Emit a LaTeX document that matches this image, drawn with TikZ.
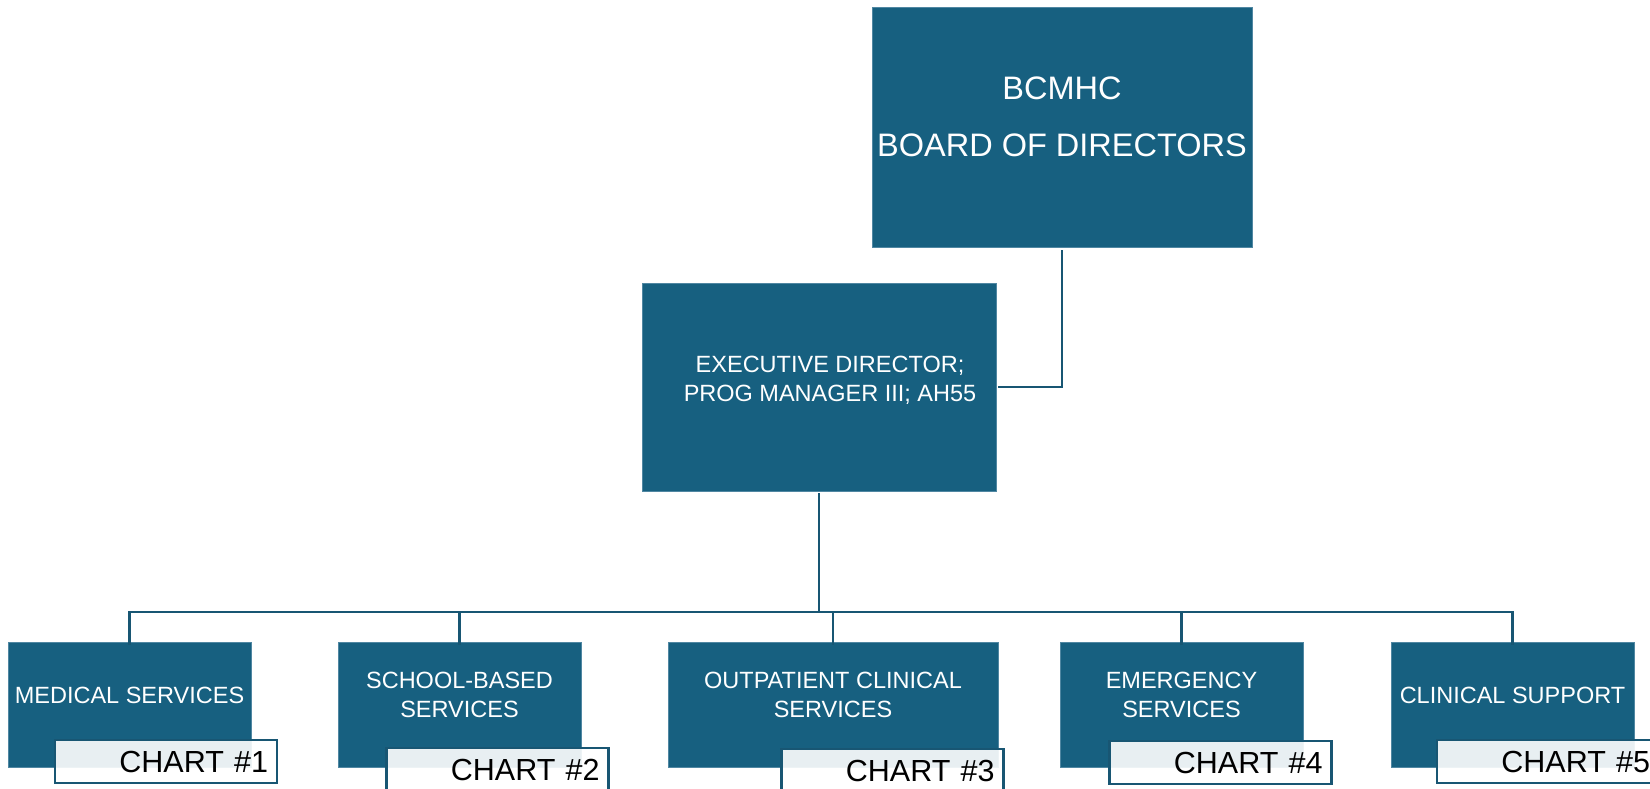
\documentclass[tikz,border=0pt]{standalone}
\usepackage{fontspec}
\setmainfont{Liberation Sans}
\definecolor{boxblue}{RGB}{23,96,128}
\definecolor{boxedge}{RGB}{80,135,162}
\definecolor{lineblue}{RGB}{24,86,115}
\tikzset{
  orgbox/.style={fill=boxblue, draw=boxedge, line width=0.8pt, inner sep=0pt},
  boxtext/.style={text=white, align=center, inner sep=0pt, font=\fontsize{23.5}{29}\selectfont},
  bigtext/.style={text=white, align=center, inner sep=0pt, font=\fontsize{32.5}{57}\selectfont},
  chartbox/.style={draw=lineblue, line width=2.2pt, fill=white, fill opacity=0.9, text opacity=1,
    minimum width=222pt, minimum height=43pt, inner sep=0pt, text width=204pt, align=right,
    font=\fontsize{30.5}{34}\selectfont, text=black},
  conn/.style={draw=lineblue, line width=2.8pt}
}
\begin{document}
\begin{tikzpicture}[x=1pt,y=-1pt]
\useasboundingbox (0,0) rectangle (1650,789);
\clip (0,0) rectangle (1650,789);
% boxes
\node[orgbox, minimum width=380pt, minimum height=240pt] (top) at (1062,127) {};
\node[orgbox, minimum width=354pt, minimum height=208pt] (exec) at (819,387) {};
\node[orgbox, minimum width=243pt, minimum height=125pt] (c1) at (129.5,704.5) {};
\node[orgbox, minimum width=243pt, minimum height=125pt] (c2) at (459.5,704.5) {};
\node[orgbox, minimum width=330pt, minimum height=125pt] (c3) at (833,704.5) {};
\node[orgbox, minimum width=243pt, minimum height=125pt] (c4) at (1181.5,704.5) {};
\node[orgbox, minimum width=243pt, minimum height=125pt] (c5) at (1512.5,704.5) {};
% texts
\node[bigtext, anchor=base] (toptext) at (1062,157) {BCMHC\\BOARD OF DIRECTORS};
\node[boxtext, anchor=base] (exectext) at (830,401) {EXECUTIVE DIRECTOR;\\PROG MANAGER III; AH55};
\node[boxtext, anchor=base] (t1) at (129.5,703) {MEDICAL SERVICES};
\node[boxtext, anchor=base] (t2) at (459.5,717) {SCHOOL-BASED\\SERVICES};
\node[boxtext, anchor=base] (t3) at (833,717) {OUTPATIENT CLINICAL\\SERVICES};
\node[boxtext, anchor=base] (t4) at (1181.5,717) {EMERGENCY\\SERVICES};
\node[boxtext, anchor=base] (t5) at (1512.5,703) {CLINICAL SUPPORT};
% chart tags
\node[chartbox] (k1) at (166,761.5) {CHART \#1};
\node[chartbox] (k2) at (497.5,769.5) {CHART \#2};
\node[chartbox] (k3) at (892.5,770.5) {CHART \#3};
\node[chartbox] (k4) at (1220.5,762.5) {CHART \#4};
\node[chartbox] (k5) at (1548,761.5) {CHART \#5};
% connectors
\coordinate (busL) at (129.5,612);
\coordinate (busR) at (1512.5,612);
\draw[conn] ([yshift=-3pt]top.south) |- ([xshift=2pt]exec.east);
\draw[conn] ([yshift=-2pt]exec.south) -- (exec.south |- busL);
\draw[conn] ([yshift=-3pt]c1.north) |- (busR) -- ([yshift=-3pt]c5.north);
\draw[conn] ([yshift=-3pt]c2.north) -- (c2.north |- busL);
\draw[conn] ([yshift=-3pt]c3.north) -- (c3.north |- busL);
\draw[conn] ([yshift=-3pt]c4.north) -- (c4.north |- busL);
\end{tikzpicture}
\end{document}
